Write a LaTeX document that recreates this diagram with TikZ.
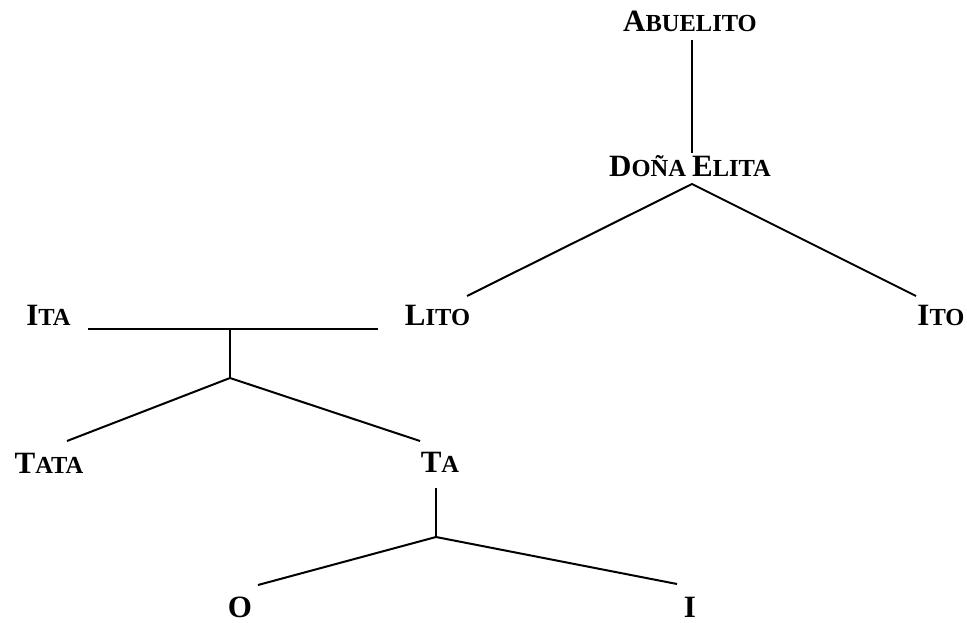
\documentclass[tikz,border=0pt]{standalone}
\usepackage{fontspec}
\setmainfont{Liberation Serif}
\newcommand{\smc}[2]{{\fontsize{31}{31}\selectfont #1}{\fontsize{24.5}{24.5}\selectfont #2}}
\begin{document}
\begin{tikzpicture}[x=1pt,y=-1pt,
  lbl/.style={anchor=base,inner sep=0pt,font=\bfseries\fontsize{24.5}{24.5}\selectfont},
  conn/.style={line width=2pt}]
\useasboundingbox (0,0) rectangle (967,623);
% labels
\node[lbl] (abuelito) at (690,32) {\smc{A}{BUELITO}};
\node[lbl] (elita) at (690,177) {\smc{D}{OÑA} \smc{E}{LITA}};
\node[lbl] (ita) at (48.5,325) {\smc{I}{TA}};
\node[lbl] (lito) at (437.5,325) {\smc{L}{ITO}};
\node[lbl] (ito) at (941,325) {\smc{I}{TO}};
\node[lbl] (tata) at (49,473) {\smc{T}{ATA}};
\node[lbl] (ta) at (440,472) {\smc{T}{A}};
\node[lbl] (o) at (240,617) {\smc{O}{}};
\node[lbl] (i) at (690,617) {\smc{I}{}};
% junction and end points
\coordinate (a1) at (692,40);
\coordinate (a2) at (692,153);
\coordinate (e0) at (692,184);
\coordinate (e1) at (467,296);
\coordinate (e2) at (916,296);
\coordinate (h1) at (88,329);
\coordinate (h2) at (378,329);
\coordinate (hm) at (230,329);
\coordinate (j1) at (230,378);
\coordinate (t1) at (67,441);
\coordinate (t2) at (420,441);
\coordinate (k0) at (436,488);
\coordinate (k1) at (436,537);
\coordinate (o1) at (258,585);
\coordinate (i1) at (677,584);
% connectors
\draw[conn] (a1) -- (a2);
\draw[conn] (e1) -- (e0) -- (e2);
\draw[conn] (h1) -- (h2);
\draw[conn] (hm) -- (j1);
\draw[conn] (t1) -- (j1) -- (t2);
\draw[conn] (k0) -- (k1);
\draw[conn] (o1) -- (k1) -- (i1);
\end{tikzpicture}
\end{document}
